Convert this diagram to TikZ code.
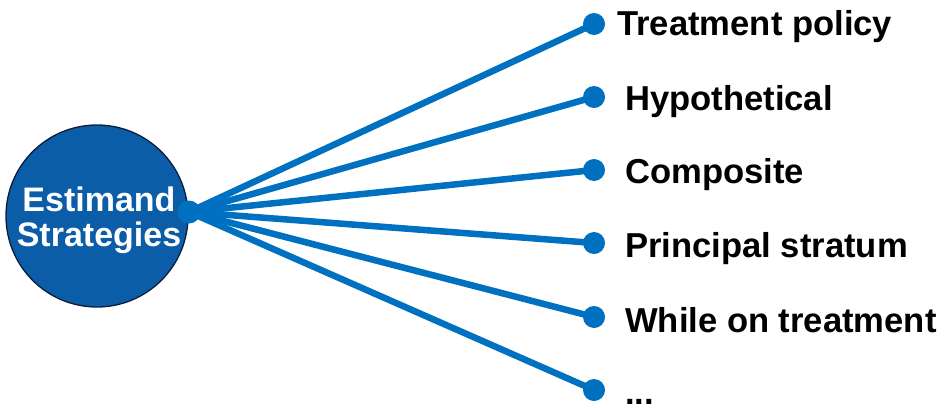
\documentclass[tikz,border=0pt]{standalone}
\usepackage{fontspec}
\setmainfont{Liberation Sans}
\usepackage{xcolor}
\usepackage{tikz}
\usetikzlibrary{positioning}

\definecolor{hubblue}{HTML}{0B5DA7}
\definecolor{linkblue}{HTML}{0070C0}
\definecolor{rimnavy}{HTML}{0A1E3C}

\begin{document}
\begin{tikzpicture}[
  x=1pt, y=-1pt,
  font=\fontsize{34}{35}\selectfont\bfseries,
  hub/.style={circle, draw=rimnavy, line width=1.3pt, fill=hubblue, minimum size=182pt, inner sep=0pt},
  hubtxt/.style={text=white, align=center, inner sep=0pt},
  dot/.style={circle, fill=linkblue, minimum size=22pt, inner sep=0pt},
  lbl/.style={anchor=base west, inner sep=0pt, font=\fontsize{34.6}{35}\selectfont\bfseries},
  link/.style={draw=linkblue, line width=6.5pt}
]
  \useasboundingbox (0,0) rectangle (949,407);
  \node[hub] (hub) at (97,216) {};
  \node[hubtxt] (hubtext) at (99,220) {Estimand\\Strategies};
  \node[dot, minimum size=23pt] (center) at (189,212) {};
  \node[dot] (d1) at (594,24) {};
  \node[dot] (d2) at (594,97) {};
  \node[dot] (d3) at (594,170) {};
  \node[dot] (d4) at (594,243) {};
  \node[dot] (d5) at (594,317) {};
  \node[dot] (d6) at (594,390) {};
  \draw[link] (center.center) -- (d1.center);
  \draw[link] (center.center) -- (d2.center);
  \draw[link] (center.center) -- (d3.center);
  \draw[link] (center.center) -- (d4.center);
  \draw[link] (center.center) -- (d5.center);
  \draw[link] (center.center) -- (d6.center);
  \node[lbl] (l1) at (617,35) {Treatment policy};
  \node[lbl] (l2) at (625,110) {Hypothetical};
  \node[lbl] (l3) at (625,183) {Composite};
  \node[lbl] (l4) at (625,257) {Principal stratum};
  \node[lbl] (l5) at (625,332) {While on treatment};
  \node[lbl] (l6) at (625,404) {...};
\end{tikzpicture}
\end{document}
